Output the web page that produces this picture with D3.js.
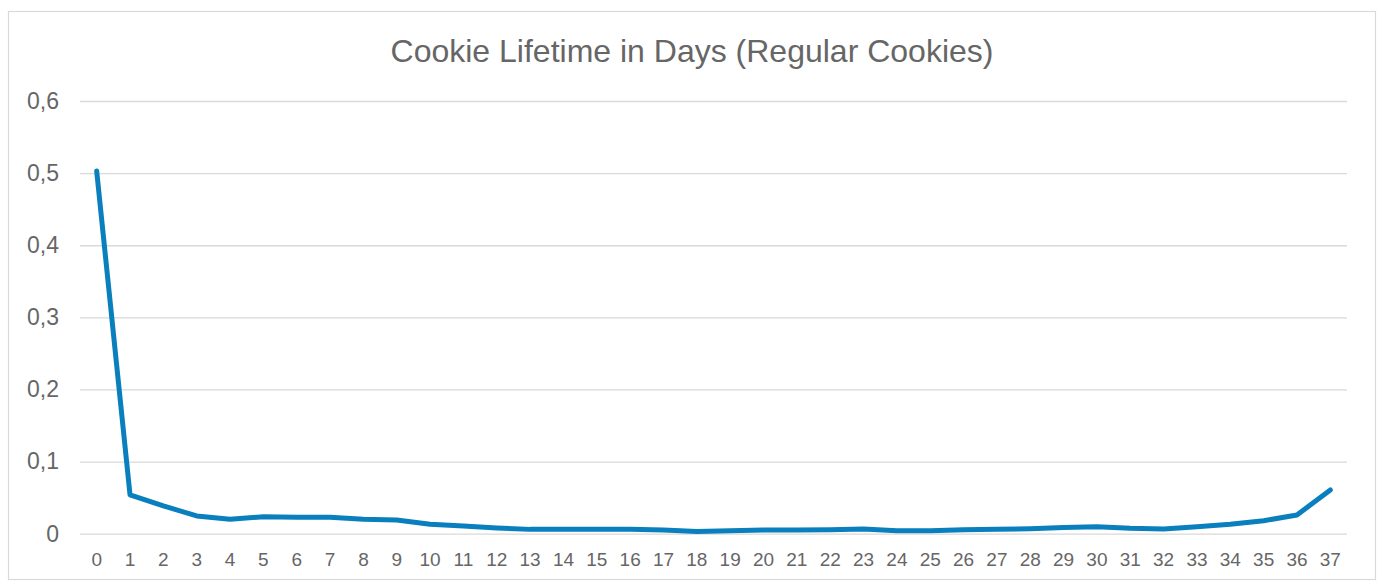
<!DOCTYPE html>
<html><head><meta charset="utf-8">
<script src="https://cdn.jsdelivr.net/npm/d3@7"></script>
<style>html,body{margin:0;padding:0;background:#fff;}svg{display:block;}</style>
</head><body>
<svg id="chart" width="1380" height="581"></svg>
<script>
const title = "Cookie Lifetime in Days (Regular Cookies)";
const days = d3.range(0, 38).map(String);
const values = [0.503, 0.054, 0.0385, 0.0246, 0.020, 0.0236, 0.0228, 0.0228, 0.020, 0.019,
  0.013, 0.0107, 0.008, 0.006, 0.006, 0.006, 0.006, 0.005, 0.003, 0.004,
  0.005, 0.005, 0.0055, 0.0065, 0.004, 0.004, 0.0055, 0.006, 0.007, 0.0085,
  0.0097, 0.0075, 0.0065, 0.0097, 0.013, 0.018, 0.026, 0.0607];
const yTicks = [0, 0.1, 0.2, 0.3, 0.4, 0.5, 0.6];

(function () {
const svg = d3.select("#chart");
const font = "'Liberation Sans', Arial, sans-serif";
const textColor = "#666666";

svg.append("rect").attr("x", 8.5).attr("y", 11.5).attr("width", 1367).attr("height", 568)
  .attr("fill", "#fff").attr("stroke", "#d9d9d9").attr("stroke-width", 1.2);

const pLeft = 80, pRight = 1347, pTop = 101, pBottom = 533.7;
const x = d3.scaleBand().domain(days).range([pLeft, pRight]).paddingInner(0).paddingOuter(0);
const y = d3.scaleLinear().domain([0, 0.6]).range([pBottom, pTop]);

svg.append("text").attr("x", 692).attr("y", 62).attr("text-anchor", "middle")
  .attr("font-family", font).attr("font-size", 32).attr("fill", textColor).text(title);

const yAxis = d3.axisLeft(y).tickValues(yTicks).tickSize(-(pRight - pLeft)).tickPadding(21)
  .tickFormat(d => d === 0 ? "0" : d3.format(".1f")(d).replace(".", ","));
const gy = svg.append("g").attr("transform", `translate(${pLeft},0)`).call(yAxis);
gy.select(".domain").remove();
gy.selectAll(".tick line").attr("stroke", "#d9d9d9").attr("stroke-width", 1.3);
gy.selectAll(".tick text").attr("font-family", font).attr("font-size", 23).attr("fill", textColor);

const xAxis = d3.axisBottom(x).tickSize(0).tickPadding(19);
const gx = svg.append("g").attr("transform", `translate(0,${pBottom})`).call(xAxis);
gx.select(".domain").remove();
gx.selectAll(".tick text").attr("font-family", font).attr("font-size", 19).attr("fill", textColor);

const line = d3.line().x((d, i) => x(days[i]) + x.bandwidth() / 2).y(d => y(d));
svg.append("path").datum(values).attr("d", line).attr("fill", "none")
  .attr("stroke", "#0A7FBE").attr("stroke-width", 5)
  .attr("stroke-linejoin", "round").attr("stroke-linecap", "round");
})();
</script>
</body></html>
